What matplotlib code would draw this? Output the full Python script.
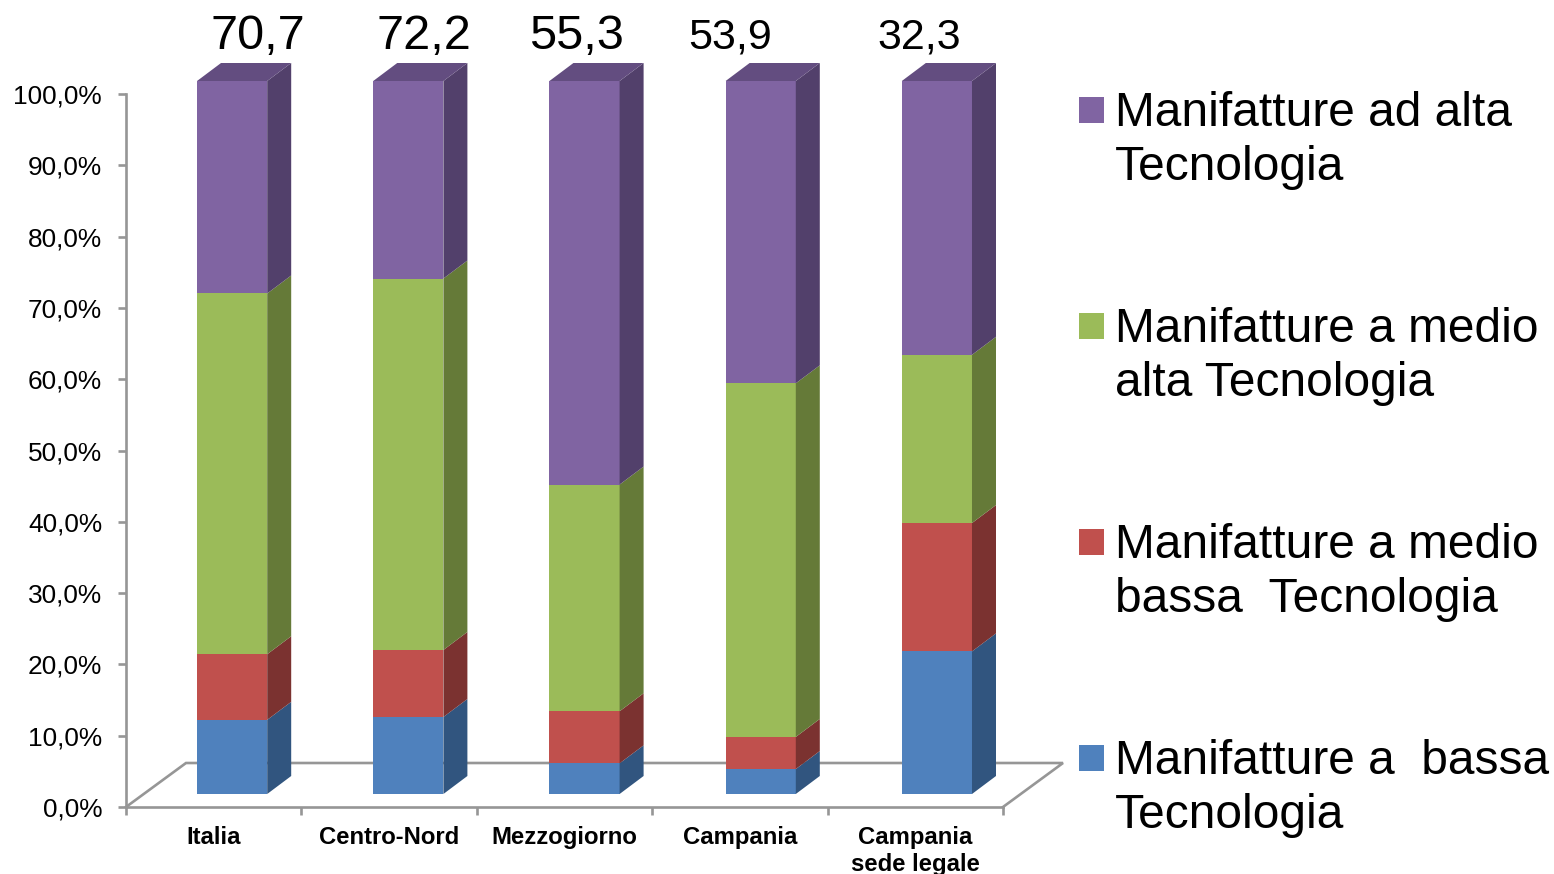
#!/usr/bin/env python3
import matplotlib as mpl
mpl.use('Agg')

from matplotlib import pyplot as plt
from matplotlib.patches import Polygon, Rectangle

plt.rcParams['font.family'] = ['Liberation Sans', 'DejaVu Sans']

categories = ['Italia', 'Centro-Nord', 'Mezzogiorno', 'Campania', 'Campania\nsede legale']
bassa = [10.4, 10.8, 4.3, 3.5, 20.0]
medio_bassa = [9.2, 9.4, 7.3, 4.5, 18.0]
medio_alta = [50.6, 52.1, 31.8, 49.6, 23.6]
alta = [29.8, 27.7, 56.6, 42.4, 38.4]
top_labels = ['70,7', '72,2', '55,3', '53,9', '32,3']
y_ticks = [0, 10, 20, 30, 40, 50, 60, 70, 80, 90, 100]
y_ticklabels = ['%d,0%%' % v for v in y_ticks]

series = [bassa, medio_bassa, medio_alta, alta]
front_colors = ['#4f81bd', '#c0504d', '#9bbb59', '#8064a2']
side_colors = ['#31557f', '#7b3230', '#657a38', '#52406b']
top_color = '#634d80'
legend_labels = ['Manifatture a  bassa\nTecnologia',
                 'Manifatture a medio\nbassa  Tecnologia',
                 'Manifatture a medio\nalta Tecnologia',
                 'Manifatture ad alta\nTecnologia']
grey = '#969696'

W, H = 1554, 874
fig = plt.figure(figsize=(W / 100, H / 100), dpi=100)
ax = fig.add_axes([126 / W, (H - 807) / H, 877 / W, 713 / H])
ax.set_xlim(0, 5)
ax.set_ylim(0, 100)

# depth of the fake 3d box, in data units
dx = 24 / 175.4
dy = 18 / 7.13
floor_dx = 60 / 175.4
floor_dy = 44 / 7.13
base = 13 / 7.13
bar_left = 0.405
bar_step = 176.2 / 175.4
bar_width = 0.40

# floor
ax.plot([0, floor_dx, 5 + floor_dx, 5], [0, floor_dy, floor_dy, 0],
        color=grey, lw=1.9, clip_on=False, zorder=1, solid_joinstyle='miter')

for i in range(len(categories)):
    bottom = base
    x0 = bar_left + i * bar_step
    x1 = x0 + bar_width
    for vals, fc, sc in zip(series, front_colors, side_colors):
        v = vals[i]
        ax.bar(x0, v, bar_width, bottom=bottom, align='edge', color=fc,
               clip_on=False, zorder=3)
        ax.add_patch(Polygon([(x1, bottom), (x1 + dx, bottom + dy),
                              (x1 + dx, bottom + v + dy), (x1, bottom + v)],
                             closed=True, fc=sc, ec='none', clip_on=False, zorder=3))
        bottom += v
    ax.add_patch(Polygon([(x0, bottom), (x0 + dx, bottom + dy),
                          (x1 + dx, bottom + dy), (x1, bottom)],
                         closed=True, fc=top_color, ec='none', clip_on=False, zorder=3))

for s in ['top', 'right']:
    ax.spines[s].set_visible(False)
for s in ['left', 'bottom']:
    ax.spines[s].set_color(grey)
    ax.spines[s].set_linewidth(1.9)

ax.set_yticks(y_ticks)
ax.set_yticklabels(y_ticklabels, fontsize=18.9, color='black')
ax.set_xticks(range(6))
ax.set_xticklabels([])
ax.tick_params(axis='both', color=grey, width=1.9, length=5.5)
ax.tick_params(axis='y', pad=11.7)
for i, c in enumerate(categories):
    ax.text(i + 0.5, -2.6, c, ha='center', va='top', fontsize=17.2, fontweight='bold',
            linespacing=1.25, clip_on=False)

# numbers over the bars, placed by hand like in the slide
label_x = [258, 424, 576, 730, 919]
label_size = [35, 35, 35, 31, 31]
for t, px, fs in zip(top_labels, label_x, label_size):
    fig.text(px / W, (H - 49) / H, t, ha='center', va='baseline', fontsize=fs)

# legend
legend_y = [757, 541, 325, 109]
for lab, fc, py in zip(legend_labels, front_colors, legend_y):
    fig.add_artist(Rectangle((1079 / W, (H - py - 14) / H), 25 / W, 26 / H,
                             transform=fig.transFigure, fc=fc, ec='none'))
    fig.text(1115 / W, (H - py + 18) / H, lab, ha='left', va='top', fontsize=34.5,
             linespacing=1.27)

fig.savefig('out.png', dpi=100)
